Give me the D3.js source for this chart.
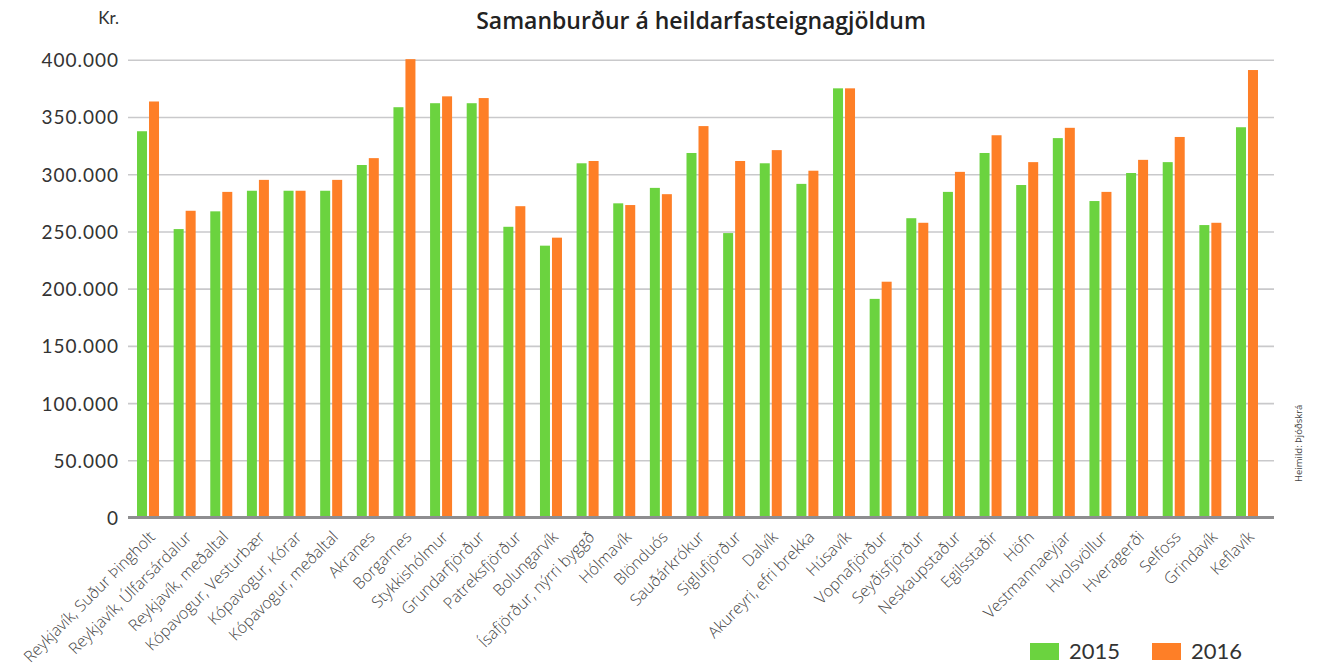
<!DOCTYPE html>
<html><head><meta charset="utf-8">
<script src="https://cdn.jsdelivr.net/npm/d3@7/dist/d3.min.js"></script>
<style>body{margin:0;background:#fff;}svg{display:block;}</style>
</head><body>
<svg id="c" width="1317" height="670"></svg>
<script>
const categories = ["Reykjavík, Suður Þingholt","Reykjavík, Úlfarsárdalur","Reykjavík, meðaltal","Kópavogur, Vesturbær","Kópavogur, Kórar","Kópavogur, meðaltal","Akranes","Borgarnes","Stykkishólmur","Grundarfjörður","Patreksfjörður","Bolungarvík","Ísafjörður, nýrri byggð","Hólmavík","Blönduós","Sauðárkrókur","Siglufjörður","Dalvík","Akureyri, efri brekka","Húsavík","Vopnafjörður","Seyðisfjörður","Neskaupstaður","Egilsstaðir","Höfn","Vestmannaeyjar","Hvolsvöllur","Hveragerði","Selfoss","Grindavík","Keflavík"];
const values2015 = [338000,252500,268000,286000,286000,286000,308500,359000,362500,362500,254500,238000,310000,275000,288500,319000,249000,310000,292000,375500,191500,262000,285000,319000,291000,332000,277000,301500,311000,256000,341500];
const values2016 = [364000,268500,285000,295500,286000,295500,314500,401000,368500,367000,272500,245000,312000,273500,283000,342500,312000,321500,303500,375500,206500,258000,302500,334500,311000,341000,285000,313000,333000,258000,391500];
const seriesNames = ["2015","2016"];
const yTicks = [0,50000,100000,150000,200000,250000,300000,350000,400000];
const colors = {"2015":"#6bd33f","2016":"#fe7f27"};

const svg = d3.select("#c");
const x = d3.scaleBand().domain(categories).range([129.7,1265.3]).padding(0);
const xi = d3.scaleBand().domain(seriesNames).range([0,22]).paddingInner(2/12).paddingOuter(0);
const y = d3.scaleLinear().domain([0,400000]).range([518,60.3]);
const fmt = v => v===0 ? "0" : d3.format(",")(v).replace(/,/g,".");

// gridlines
svg.append("g").selectAll("line").data(yTicks.filter(d=>d>0)).join("line")
  .attr("x1",128).attr("x2",1274).attr("y1",d=>y(d)).attr("y2",d=>y(d))
  .attr("stroke","#c9c9cb").attr("stroke-width",1.6);

// y labels
const yAxis = d3.axisLeft(y).tickValues(yTicks).tickFormat(fmt).tickSize(0).tickPadding(0);
const ga = svg.append("g").attr("transform","translate(119,0)").call(yAxis);
ga.select(".domain").remove();
ga.selectAll("text").attr("font-family","Lato").attr("font-size",19).attr("letter-spacing","1px")
  .attr("fill","#333").attr("dy","0.34em");

// bars
const groups = svg.append("g").selectAll("g").data(categories).join("g")
  .attr("transform",d=>`translate(${x(d)+x.bandwidth()/2-11},0)`);
groups.selectAll("rect").data((d,i)=>[{s:"2015",v:values2015[i]},{s:"2016",v:values2016[i]}]).join("rect")
  .attr("x",d=>xi(d.s)).attr("width",xi.bandwidth())
  .attr("y",d=>y(d.v)).attr("height",d=>y(0)-y(d.v))
  .attr("fill",d=>colors[d.s]);

// baseline
svg.append("line").attr("x1",128).attr("x2",1274).attr("y1",517.5).attr("y2",517.5)
  .attr("stroke","#8e8e90").attr("stroke-width",3);

// x labels
const xAxis = d3.axisBottom(x).tickSize(0).tickPadding(0);
const gx = svg.append("g").call(xAxis);
gx.select(".domain").remove();
gx.selectAll(".tick").attr("transform",d=>`translate(${x(d)+x.bandwidth()/2+8},538)`);
gx.selectAll("text").attr("font-family","Open Sans").attr("font-weight",300).attr("font-size",16).attr("fill","#444")
  .attr("text-anchor","end").attr("dy",0).attr("y",0).attr("transform","rotate(-45)");

// title
svg.append("text").attr("x",701).attr("y",29).attr("text-anchor","middle")
  .attr("font-family","Open Sans").attr("font-weight",600).attr("font-size",23).attr("fill","#222")
  .text("Samanburður á heildarfasteignagjöldum");
svg.append("text").attr("x",119).attr("y",24).attr("text-anchor","end")
  .attr("font-family","Lato").attr("font-size",17).attr("fill","#333").text("Kr.");

// legend
const lg = svg.append("g").selectAll("g").data(seriesNames).join("g")
  .attr("transform",(d,i)=>`translate(${1030+i*122},643)`);
lg.append("rect").attr("width",29).attr("height",17).attr("fill",d=>colors[d]);
lg.append("text").attr("x",39).attr("y",16).attr("font-family","Lato").attr("font-size",22).attr("fill","#333").text(d=>d);

// source
svg.append("text").attr("transform","translate(1302,482) rotate(-90)")
  .attr("font-family","Open Sans").attr("font-size",9.5).attr("fill","#444").text("Heimild: Þjóðskrá");
</script>
</body></html>
